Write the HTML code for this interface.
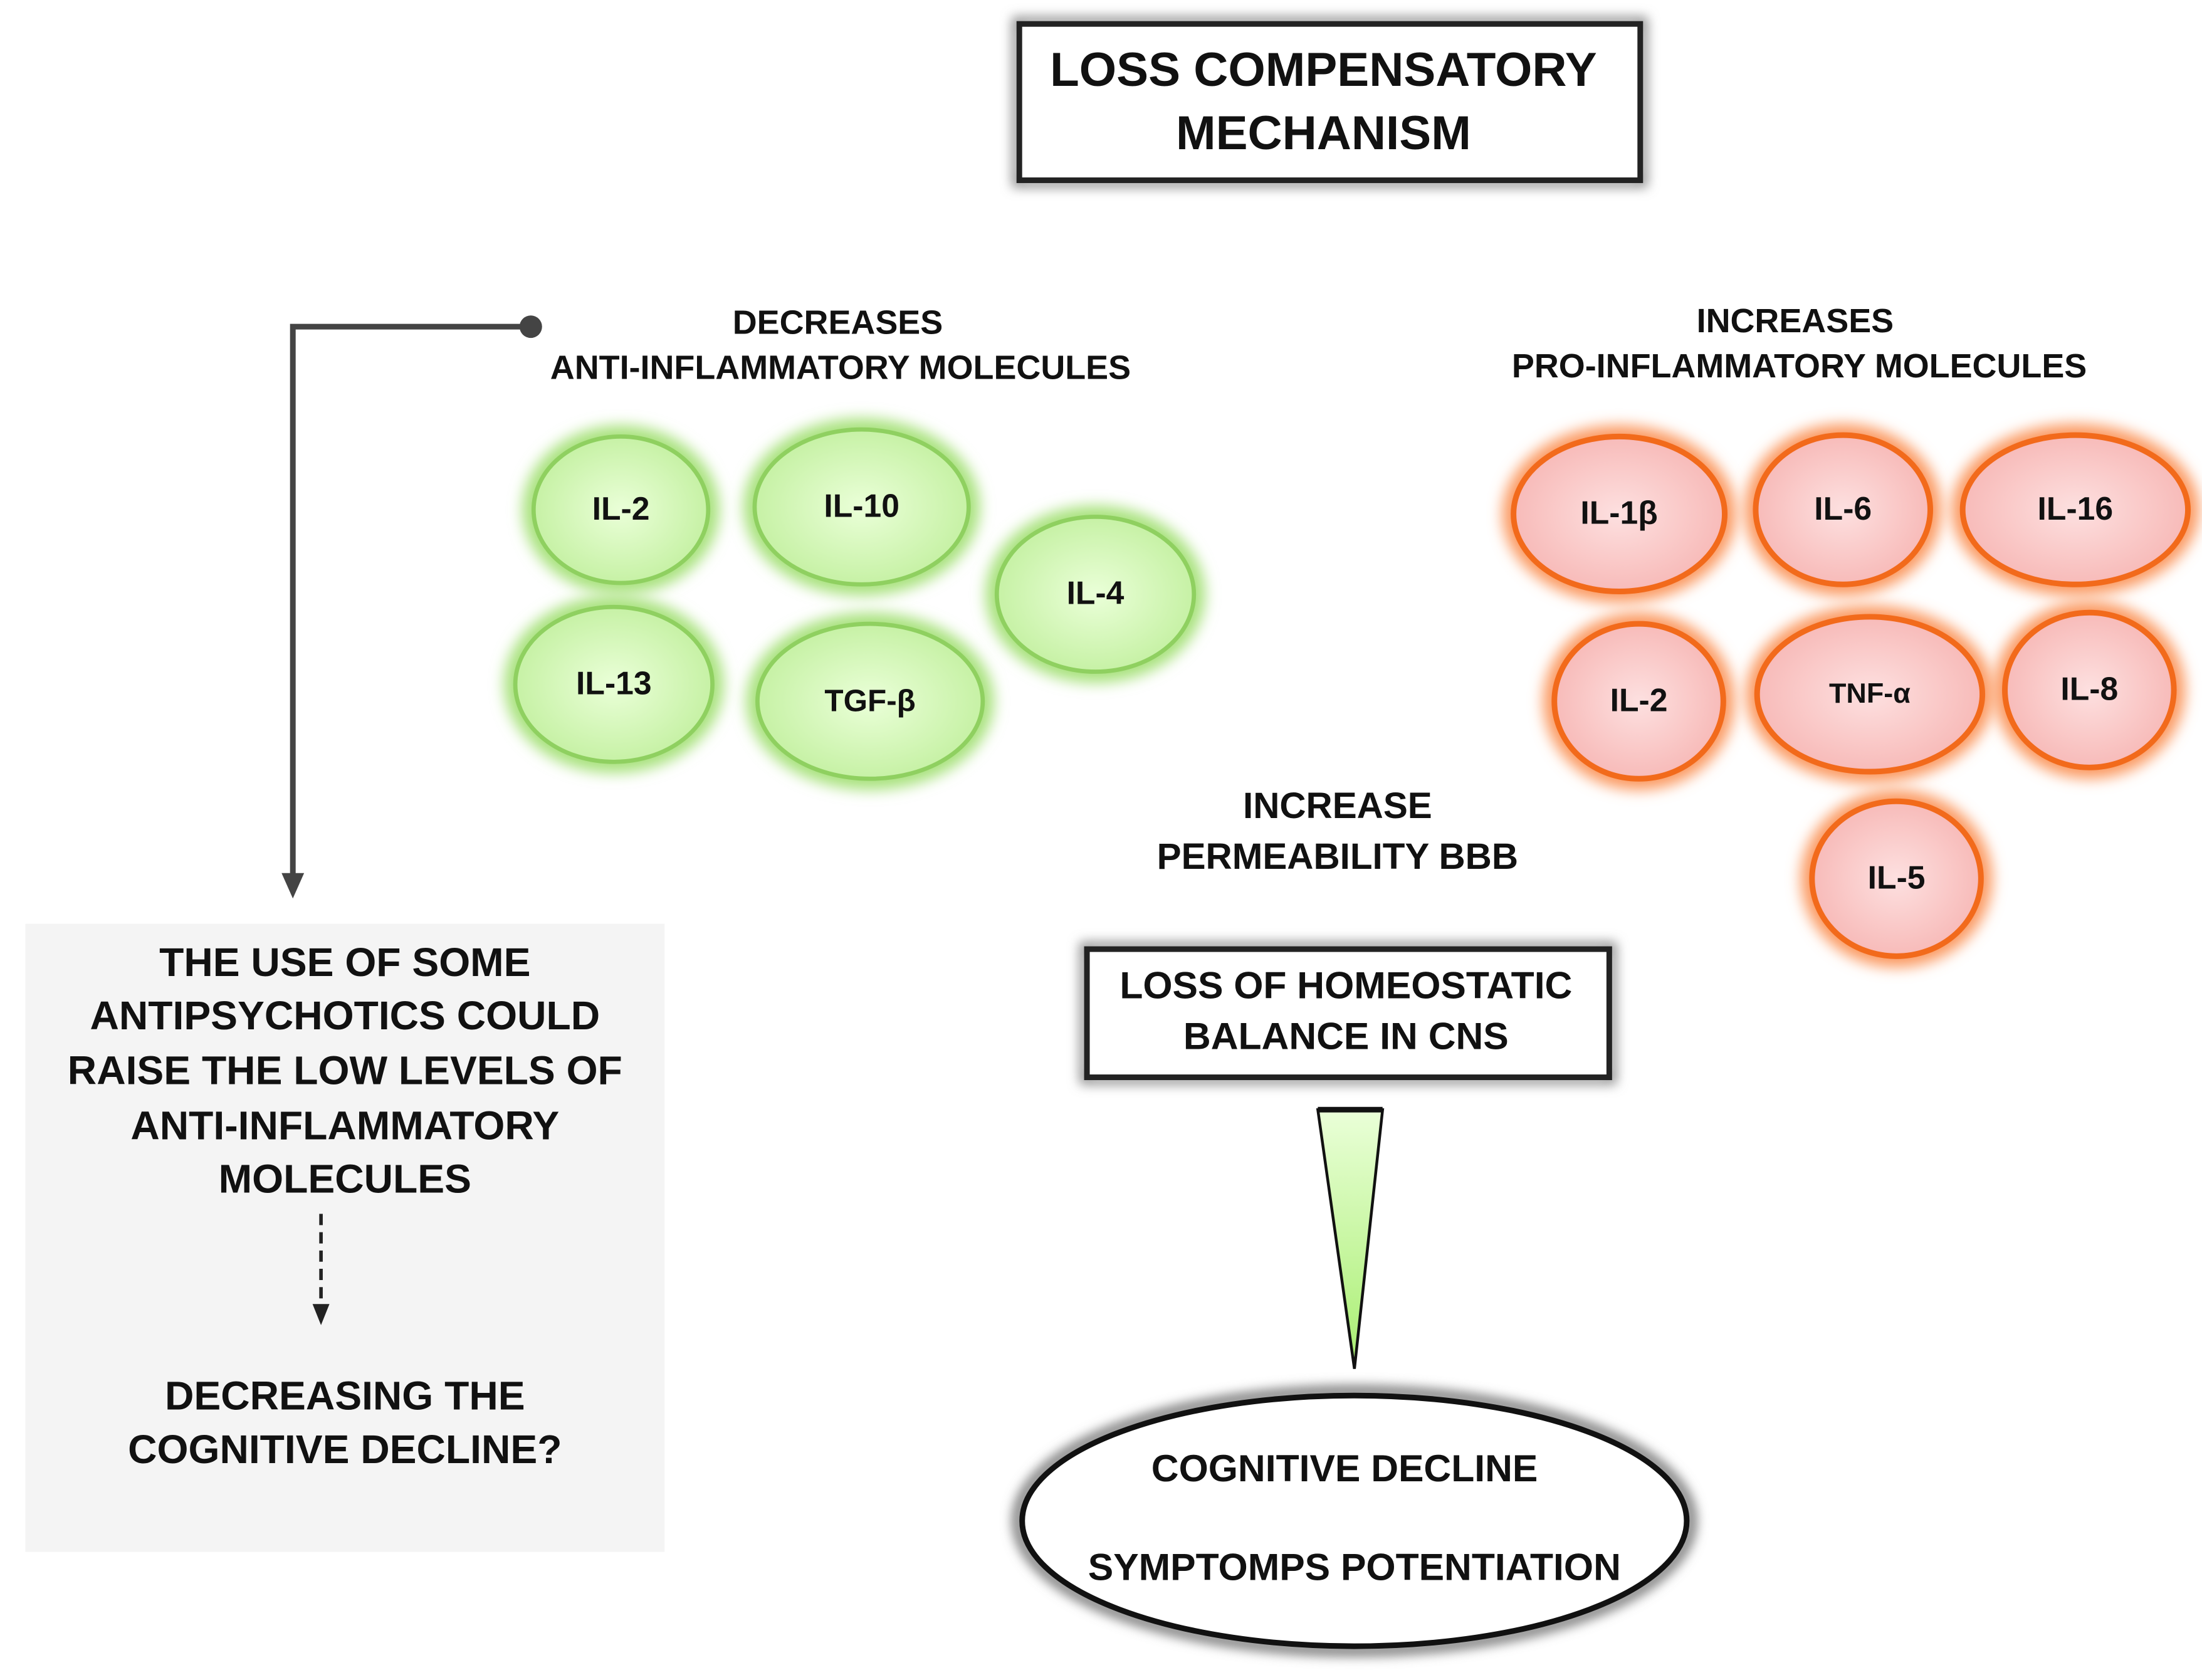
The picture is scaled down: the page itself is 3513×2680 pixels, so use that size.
<!DOCTYPE html>
<html><head><meta charset="utf-8"><style>
html,body{margin:0;padding:0;background:#fff;}
svg{display:block;}
text{font-family:"Liberation Sans",sans-serif;font-weight:bold;fill:#111;text-anchor:middle;}
</style></head><body>
<svg width="3513" height="2680" viewBox="0 0 1564 1193" preserveAspectRatio="none" xmlns="http://www.w3.org/2000/svg">
<defs>
<radialGradient id="g" cx="50%" cy="50%" r="55%"><stop offset="0" stop-color="#eaffd8"/><stop offset="1" stop-color="#c3f0a0"/></radialGradient>
<radialGradient id="r" cx="50%" cy="50%" r="55%"><stop offset="0" stop-color="#fde0e0"/><stop offset="1" stop-color="#f7b7b5"/></radialGradient>
<linearGradient id="t" x1="0" y1="0" x2="0" y2="1"><stop offset="0" stop-color="#eaffd8"/><stop offset="1" stop-color="#a8ee70"/></linearGradient>
<filter id="b" x="-20%" y="-20%" width="140%" height="140%"><feGaussianBlur stdDeviation="4"/></filter>
<filter id="b2" x="-30%" y="-30%" width="160%" height="160%"><feGaussianBlur stdDeviation="5"/></filter>
</defs>
<rect width="1564" height="1193" fill="#fff"/>
<!-- title -->
<rect x="722" y="15" width="445" height="115" fill="none" stroke="#888" stroke-width="6" filter="url(#b)"/>
<rect x="724" y="17" width="441" height="111" fill="#fff" stroke="#222" stroke-width="4"/>
<text x="940" y="61" font-size="34">LOSS COMPENSATORY</text>
<text x="940" y="106" font-size="34">MECHANISM</text>
<!-- connector -->
<polyline points="377,232 208,232 208,624" fill="none" stroke="#444" stroke-width="4"/>
<circle cx="377" cy="232" r="8" fill="#444"/>
<polygon points="200,620 216,620 208,638" fill="#444"/>
<text x="595" y="237" font-size="24">DECREASES</text>
<text x="597" y="269" font-size="24">ANTI-INFLAMMATORY MOLECULES</text>
<text x="1275" y="236" font-size="24">INCREASES</text>
<text x="1278" y="268" font-size="24">PRO-INFLAMMATORY MOLECULES</text>
<!-- green -->
<g stroke="#8fd060" stroke-width="3">
<g><ellipse cx="441" cy="362" rx="70" ry="60" fill="#a9e27e" stroke="none" filter="url(#b2)"/><ellipse cx="441" cy="362" rx="62" ry="52" fill="url(#g)"/></g>
<g><ellipse cx="612" cy="360" rx="84" ry="63" fill="#a9e27e" stroke="none" filter="url(#b2)"/><ellipse cx="612" cy="360" rx="76" ry="55" fill="url(#g)"/></g>
<g><ellipse cx="778" cy="422" rx="78" ry="63" fill="#a9e27e" stroke="none" filter="url(#b2)"/><ellipse cx="778" cy="422" rx="70" ry="55" fill="url(#g)"/></g>
<g><ellipse cx="436" cy="486" rx="78" ry="63" fill="#a9e27e" stroke="none" filter="url(#b2)"/><ellipse cx="436" cy="486" rx="70" ry="55" fill="url(#g)"/></g>
<g><ellipse cx="618" cy="498" rx="88" ry="63" fill="#a9e27e" stroke="none" filter="url(#b2)"/><ellipse cx="618" cy="498" rx="80" ry="55" fill="url(#g)"/></g>
</g>
<text x="441" y="369" font-size="23">IL-2</text>
<text x="612" y="367" font-size="23">IL-10</text>
<text x="778" y="429" font-size="23">IL-4</text>
<text x="436" y="493" font-size="23">IL-13</text>
<text x="618" y="505" font-size="22">TGF-β</text>
<!-- red -->
<g stroke="#f26a1b" stroke-width="4">
<g><ellipse cx="1150" cy="365" rx="83" ry="63" fill="#fb9a62" stroke="none" filter="url(#b2)"/><ellipse cx="1150" cy="365" rx="75" ry="55" fill="url(#r)"/></g>
<g><ellipse cx="1309" cy="362" rx="70" ry="61" fill="#fb9a62" stroke="none" filter="url(#b2)"/><ellipse cx="1309" cy="362" rx="62" ry="53" fill="url(#r)"/></g>
<g><ellipse cx="1474" cy="362" rx="88" ry="61" fill="#fb9a62" stroke="none" filter="url(#b2)"/><ellipse cx="1474" cy="362" rx="80" ry="53" fill="url(#r)"/></g>
<g><ellipse cx="1164" cy="498" rx="68" ry="63" fill="#fb9a62" stroke="none" filter="url(#b2)"/><ellipse cx="1164" cy="498" rx="60" ry="55" fill="url(#r)"/></g>
<g><ellipse cx="1328" cy="493" rx="88" ry="63" fill="#fb9a62" stroke="none" filter="url(#b2)"/><ellipse cx="1328" cy="493" rx="80" ry="55" fill="url(#r)"/></g>
<g><ellipse cx="1484" cy="490" rx="68" ry="63" fill="#fb9a62" stroke="none" filter="url(#b2)"/><ellipse cx="1484" cy="490" rx="60" ry="55" fill="url(#r)"/></g>
<g><ellipse cx="1347" cy="624" rx="68" ry="63" fill="#fb9a62" stroke="none" filter="url(#b2)"/><ellipse cx="1347" cy="624" rx="60" ry="55" fill="url(#r)"/></g>
</g>
<text x="1150" y="372" font-size="23">IL-1β</text>
<text x="1309" y="369" font-size="23">IL-6</text>
<text x="1474" y="369" font-size="23">IL-16</text>
<text x="1164" y="505" font-size="23">IL-2</text>
<text x="1328" y="499" font-size="20">TNF-α</text>
<text x="1484" y="497" font-size="23">IL-8</text>
<text x="1347" y="631" font-size="23">IL-5</text>
<text x="950" y="581" font-size="26">INCREASE</text>
<text x="950" y="617" font-size="26">PERMEABILITY BBB</text>
<!-- gray box -->
<rect x="18" y="656" width="454" height="446" fill="#f4f4f4"/>
<g font-size="28.6">
<text x="245" y="693">THE USE OF SOME</text>
<text x="245" y="731">ANTIPSYCHOTICS COULD</text>
<text x="245" y="770">RAISE THE LOW LEVELS  OF</text>
<text x="245" y="809">ANTI-INFLAMMATORY</text>
<text x="245" y="847">MOLECULES</text>
<text x="245" y="1001">DECREASING THE</text>
<text x="245" y="1039">COGNITIVE DECLINE?</text>
</g>
<line x1="228" y1="862" x2="228" y2="928" stroke="#222" stroke-width="2.5" stroke-dasharray="8,5"/>
<polygon points="222,926 234,926 228,941" fill="#222"/>
<!-- homeostatic -->
<rect x="770" y="672" width="375" height="95" fill="none" stroke="#888" stroke-width="6" filter="url(#b)"/>
<rect x="772" y="674" width="371" height="91" fill="#fff" stroke="#222" stroke-width="4"/>
<text x="956" y="709" font-size="27">LOSS OF HOMEOSTATIC</text>
<text x="956" y="745" font-size="27">BALANCE IN CNS</text>
<polygon points="936,788 982,788 962,972" fill="url(#t)" stroke="#111" stroke-width="2"/>
<line x1="936" y1="788" x2="982" y2="788" stroke="#111" stroke-width="4"/>
<!-- ellipse -->
<ellipse cx="962" cy="1080" rx="239" ry="92" fill="none" stroke="#777" stroke-width="8" filter="url(#b)"/>
<ellipse cx="962" cy="1080" rx="236" ry="89" fill="#fff" stroke="#111" stroke-width="4"/>
<text x="955" y="1052" font-size="27">COGNITIVE DECLINE</text>
<text x="962" y="1122" font-size="27">SYMPTOMPS POTENTIATION</text>
</svg>
</body></html>
